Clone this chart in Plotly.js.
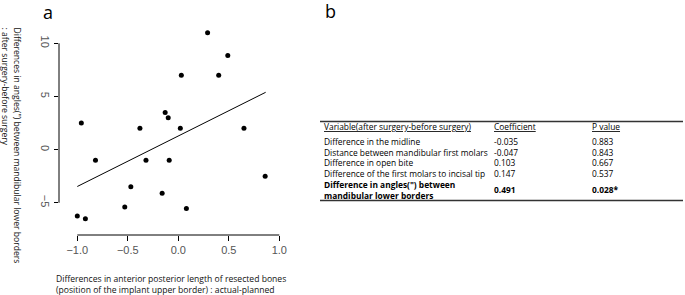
<!DOCTYPE html>
<html>
<head>
<meta charset="utf-8">
<script src="https://cdn.plot.ly/plotly-3.0.1.min.js"></script>
<style>html,body{margin:0;padding:0;background:#fff;}#chart{width:685px;height:295px;}</style>
</head>
<body>
<div id="chart"></div>
<script>
// ---- scatter data (panel a) ----
var pointsX = [-1.00, -0.92, -0.96, -0.82, -0.47, -0.53, -0.38, -0.32, -0.16, -0.13, -0.10, -0.09, 0.02, 0.03, 0.08, 0.29, 0.40, 0.49, 0.65, 0.86];
var pointsY = [-6.25, -6.5, 2.5, -1.0, -3.5, -5.4, 2.0, -1.0, -4.1, 3.5, 3.0, -1.0, 2.0, 7.0, -5.55, 11.0, 7.0, 8.85, 2.0, -2.5];
// fitted regression line endpoints
var fitX = [-1.0, 0.865];
var fitY = [-3.47, 5.39];
// axis ticks
var xTicks = [-1.0, -0.5, 0.0, 0.5, 1.0];
var xTickText = ["\u22121.0", "\u22120.5", "0.0", "0.5", "1.0"];
var yTicks = [-5, 0, 5, 10];
var yTickText = ["\u22125", "0", "5", "10"];
var xTitle = "Differences in anterior posterior length of resected bones<br>(position of the implant upper border) : actual-planned";
var yTitle = "Differences in angles(\") between mandibular lower borders<br>: after surgery-before surgery";

// ---- table data (panel b) ----
var tableHeader = ["Variable(after surgery-before surgery)", "Coefficient", "P value"];
var tableVars = ["Difference in the midline", "Distance between mandibular first molars", "Difference in open bite", "Difference of the first molars to incisal tip", "Difference in angles(\") between<br>mandibular lower borders"];
var tableCoef = ["-0.035", "-0.047", "0.103", "0.147", "0.491"];
var tablePval = ["0.883", "0.843", "0.667", "0.537", "0.028*"];
var tableBold = [false, false, false, false, true];

// ---- layout geometry ----
var W = 685, H = 295;
var mL = 59, mR = 395, mT = 25, mB = 60;
var pw = W - mL - mR, ph = H - mT - mB;
function px2paperX(px){ return (px - mL) / pw; }
function px2paperY(py){ return (H - mB - py) / ph; }

var FONT = "Liberation Sans, Arial, sans-serif";
var TFONT = "Open Sans, Noto Sans, sans-serif";
var annotations = [];
var shapes = [];

// panel letters
annotations.push({text: "a", xref: "paper", yref: "paper", x: px2paperX(48), y: px2paperY(12), xanchor: "center", yanchor: "middle", showarrow: false, font: {family: TFONT, size: 18, color: "#000"}});
annotations.push({text: "b", xref: "paper", yref: "paper", x: px2paperX(330), y: px2paperY(11), xanchor: "center", yanchor: "middle", showarrow: false, font: {family: TFONT, size: 18, color: "#000"}});

// axis titles
annotations.push({text: yTitle, xref: "paper", yref: "paper", x: px2paperX(11.5), y: px2paperY(25), xanchor: "center", yanchor: "top", textangle: 90, align: "left", showarrow: false, font: {family: TFONT, size: 8.6, color: "#111"}});
annotations.push({text: xTitle, xref: "paper", yref: "paper", x: px2paperX(54), y: px2paperY(284), xanchor: "left", yanchor: "middle", align: "left", showarrow: false, font: {family: TFONT, size: 8.6, color: "#111"}});

// axis lines (R style, spanning tick range only)
shapes.push({type: "line", xref: "x", yref: "paper", x0: xTicks[0], x1: xTicks[xTicks.length-1], y0: 0, y1: 0, line: {color: "#000", width: 1}});
shapes.push({type: "line", xref: "paper", yref: "y", x0: 0, x1: 0, y0: yTicks[0], y1: yTicks[yTicks.length-1], line: {color: "#000", width: 1}});

// table
var colX = [322, 492, 590];
var rowY = [141, 152, 162.7, 173.3, 189.5];
var headerY = 126.7;
shapes.push({type: "line", xref: "paper", yref: "paper", x0: px2paperX(320), x1: px2paperX(683), y0: px2paperY(121.5), y1: px2paperY(121.5), line: {color: "#333", width: 1.3}});
shapes.push({type: "line", xref: "paper", yref: "paper", x0: px2paperX(320), x1: px2paperX(683), y0: px2paperY(200.5), y1: px2paperY(200.5), line: {color: "#333", width: 1.3}});
var TSIZE = 8.4;
for (var c = 0; c < tableHeader.length; c++) {
  annotations.push({text: "<u>" + tableHeader[c] + "</u>", xref: "paper", yref: "paper", x: px2paperX(colX[c]), y: px2paperY(headerY), xanchor: "left", yanchor: "middle", align: "left", showarrow: false, font: {family: TFONT, size: TSIZE, color: "#000"}});
}
for (var r = 0; r < tableVars.length; r++) {
  var b0 = tableBold[r] ? "<b>" : "", b1 = tableBold[r] ? "</b>" : "";
  var cells = [tableVars[r], tableCoef[r], tablePval[r]];
  for (var c2 = 0; c2 < 3; c2++) {
    annotations.push({text: b0 + cells[c2] + b1, xref: "paper", yref: "paper", x: px2paperX(colX[c2]), y: px2paperY(rowY[r]), xanchor: "left", yanchor: "middle", align: "left", showarrow: false, font: {family: TFONT, size: TSIZE, color: "#000"}});
  }
}

var traces = [
  {x: pointsX, y: pointsY, type: "scatter", mode: "markers", marker: {color: "#000", size: 5}, hoverinfo: "skip", cliponaxis: false},
  {x: fitX, y: fitY, type: "scatter", mode: "lines", line: {color: "#000", width: 1}, hoverinfo: "skip"}
];

var xPerPx = 1 / 101, yPerPx = 1 / 10.63;
var xLeft = (mL - 178.3) * xPerPx;
var yBottom = (149.6 - (H - mB)) * yPerPx;

var layout = {
  width: W, height: H,
  margin: {l: mL, r: mR, t: mT, b: mB, pad: 0},
  paper_bgcolor: "#fff", plot_bgcolor: "#fff",
  showlegend: false,
  xaxis: {range: [xLeft, xLeft + pw * xPerPx], tickvals: xTicks, ticktext: xTickText, ticks: "outside", ticklen: 5, tickwidth: 1, tickcolor: "#000", showline: false, zeroline: false, showgrid: false, tickfont: {family: FONT, size: 11, color: "#555"}, fixedrange: true},
  yaxis: {range: [yBottom, yBottom + ph * yPerPx], tickvals: yTicks, ticktext: yTickText, ticks: "outside", ticklen: 4, tickwidth: 1, tickcolor: "#000", tickangle: 90, showline: false, zeroline: false, showgrid: false, tickfont: {family: FONT, size: 11, color: "#555"}, fixedrange: true},
  annotations: annotations,
  shapes: shapes
};

Plotly.newPlot("chart", traces, layout, {staticPlot: true, displayModeBar: false});
</script>
</body>
</html>
